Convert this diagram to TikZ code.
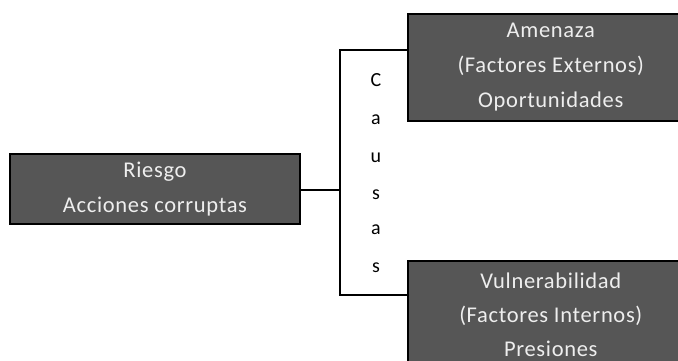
\documentclass[tikz,border=0pt]{standalone}
\usepackage{fontspec}
\setmainfont{Carlito}[LetterSpace=3]
\begin{document}
\begin{tikzpicture}[x=1pt,y=-1pt,
  darkbox/.style={draw=black,line width=1.6pt,fill=boxgray,text=boxtext,
    minimum height=#1,inner sep=0pt,align=center,font=\fontsize{22.5}{35}\selectfont},
  link/.style={draw=black,line width=1.2pt},
  letter/.style={font=\fontsize{20}{22}\selectfont,inner sep=0pt}]
\definecolor{boxgray}{RGB}{86,86,86}
\definecolor{boxtext}{RGB}{238,238,238}
\useasboundingbox (0,0) rectangle (678,360);
\clip (0,0) rectangle (678,360);
\node[darkbox=70pt,minimum width=290pt] (riesgo) at (155,189) {Riesgo\\Acciones corruptas};
\node[darkbox=107pt,minimum width=286pt,anchor=north west] (amenaza) at (407,13) {Amenaza\\(Factores Externos)\\Oportunidades};
\node[darkbox=108pt,minimum width=286pt,anchor=north west,font=\fontsize{22.5}{34}\selectfont] (vuln) at (407,260) {Vulnerabilidad\\(Factores Internos)\\Presiones};
\coordinate (top) at (340,50);
\coordinate (bot) at (340,295);
\coordinate (mid) at (340,190);
\draw[link] (riesgo.east |- mid) -- (mid);
\draw[link] (amenaza.west |- top) -- (top) -- (bot) -- (vuln.west |- bot);
\node[letter] (l1) at (376,80) {C};
\node[letter] (l2) at (376,120) {a};
\node[letter] (l3) at (376,158) {u};
\node[letter] (l4) at (376,195) {s};
\node[letter] (l5) at (376,230) {a};
\node[letter] (l6) at (376,268) {s};
\end{tikzpicture}
\end{document}
